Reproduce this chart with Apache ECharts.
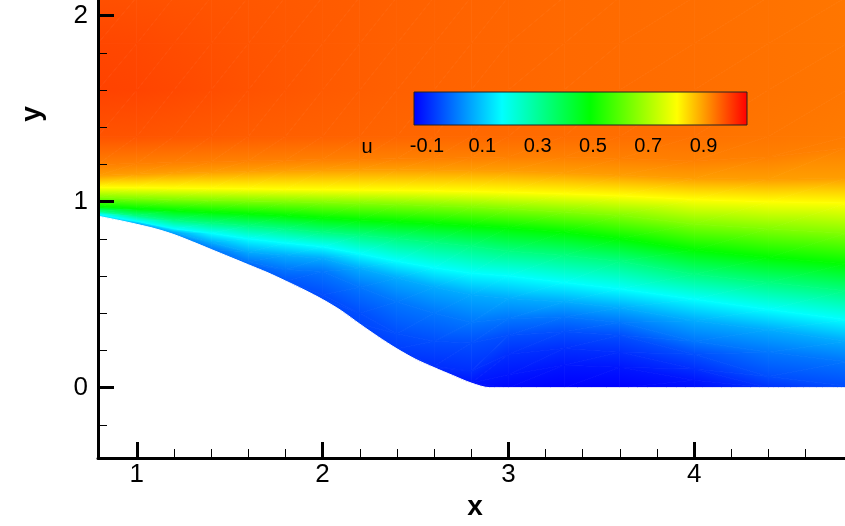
<!DOCTYPE html>
<html><head><meta charset="utf-8">
<script src="https://cdn.jsdelivr.net/npm/echarts@6/dist/echarts.min.js"></script>
<style>html,body{margin:0;padding:0;background:#fff}#c{width:845px;height:526px}</style>
</head><body><div id="c"></div>
<script>
// ---------------- data ----------------
// stations (x) where profiles were read
const xs = [0.79, 1.0, 1.2, 1.4, 1.6, 1.8, 2.0, 2.2, 2.4, 2.6, 2.8, 3.0, 3.3, 3.6, 4.0, 4.4, 4.82];
// wall (hill) shape
const wallX = [0.79, 0.9, 1.0, 1.1, 1.2, 1.3, 1.4, 1.5, 1.6, 1.7, 1.8, 1.9, 2.0, 2.1, 2.2, 2.3, 2.4, 2.5, 2.6, 2.7, 2.8, 2.9, 3.0, 3.3, 3.6, 4.0, 4.4, 4.82];
const wallY = [0.922, 0.900, 0.878, 0.854, 0.823, 0.784, 0.743, 0.702, 0.661, 0.620, 0.574, 0.526, 0.474, 0.414, 0.342, 0.273, 0.209, 0.153, 0.108, 0.066, 0.025, 0.0, 0, 0, 0, 0, 0, 0];
// u next to the wall at each station
const uWall = [0.12, 0.05, 0.03, 0.0, -0.02, -0.04, -0.055, -0.06, -0.07, -0.095, -0.12, -0.138, -0.147, -0.147, -0.13, -0.085, -0.055];
// heights (y) of contour lines of u at each station (null = level not present, lies on the wall)
const levM012 = -0.12, yM012 = [null, null, null, null, null, null, null, null, null, null, null, 0.07, 0.12, 0.11, 0.04, null, null];
const levM009 = -0.09, yM009 = [null, null, null, null, null, null, null, null, null, 0.115, 0.09, 0.18, 0.21, 0.19, 0.10, null, null];
const levM005 = -0.05, yM005 = [null, null, null, null, null, null, 0.50, 0.40, 0.29, 0.25, 0.24, 0.28, 0.30, 0.28, 0.18, 0.06, 0.01];
const lev000 = 0.0,   y000  = [null, null, null, null, 0.675, 0.635, 0.625, 0.54, 0.46, 0.40, 0.35, 0.37, 0.38, 0.35, 0.25, 0.19, 0.14];
const lev007 = 0.066, y007  = [null, 0.882, 0.835, 0.78, 0.73, 0.71, 0.695, 0.64, 0.59, 0.54, 0.50, 0.48, 0.46, 0.43, 0.36, 0.31, 0.25];
const lev017 = 0.171, y017  = [0.932, 0.895, 0.855, 0.83, 0.80, 0.778, 0.758, 0.72, 0.68, 0.645, 0.615, 0.60, 0.565, 0.53, 0.475, 0.42, 0.365];
const lev033 = 0.33,  y033  = [0.95, 0.925, 0.90, 0.885, 0.87, 0.855, 0.835, 0.82, 0.80, 0.78, 0.76, 0.735, 0.71, 0.68, 0.61, 0.565, 0.52];
const lev049 = 0.49,  y049  = [0.973, 0.962, 0.952, 0.943, 0.935, 0.925, 0.912, 0.902, 0.892, 0.882, 0.87, 0.858, 0.835, 0.80, 0.74, 0.70, 0.665];
const lev065 = 0.65,  y065  = [1.022, 1.017, 1.012, 1.008, 1.004, 1.0, 0.995, 0.99, 0.985, 0.978, 0.97, 0.96, 0.945, 0.925, 0.88, 0.855, 0.83];
const lev080 = 0.804, y080  = [1.076, 1.075, 1.073, 1.071, 1.069, 1.067, 1.065, 1.063, 1.061, 1.058, 1.055, 1.05, 1.042, 1.032, 1.012, 1.0, 0.992];
const lev090 = 0.90,  y090  = [1.14, 1.148, 1.155, 1.16, 1.164, 1.168, 1.17, 1.171, 1.171, 1.17, 1.168, 1.165, 1.155, 1.142, 1.125, 1.12, 1.125];
const lev093 = 0.93,  y093  = [1.2, 1.205, 1.21, 1.215, 1.22, 1.223, 1.226, 1.228, 1.23, 1.233, 1.236, 1.24, 1.24, 1.232, 1.22, 1.24, 1.29];
// u along horizontal lines in the outer flow
const yTop1 = 1.35, uTop1 = [0.975, 0.974, 0.971, 0.968, 0.965, 0.963, 0.961, 0.959, 0.957, 0.955, 0.954, 0.952, 0.95, 0.948, 0.945, 0.94, 0.935];
const yTop2 = 1.6,  uTop2 = [0.992, 0.99, 0.986, 0.981, 0.976, 0.972, 0.968, 0.965, 0.962, 0.96, 0.958, 0.956, 0.953, 0.951, 0.948, 0.944, 0.94];
const yTop3 = 1.85, uTop3 = [0.988, 0.986, 0.982, 0.978, 0.974, 0.971, 0.968, 0.965, 0.962, 0.96, 0.958, 0.956, 0.953, 0.951, 0.948, 0.944, 0.94];
const yTop4 = 2.1,  uTop4 = [0.978, 0.977, 0.975, 0.973, 0.971, 0.969, 0.967, 0.965, 0.962, 0.96, 0.958, 0.956, 0.953, 0.951, 0.948, 0.944, 0.94];
// colour map and colour bar
const cmapValues = [-0.147, 0.171, 0.49, 0.804, 1.057];
const cmapColors = ['#0000ff', '#00ffff', '#00ff00', '#ffff00', '#ff0000'];
const cbTicks = [-0.1, 0.1, 0.3, 0.5, 0.7, 0.9];
const cbTickLabels = ['-0.1', '0.1', '0.3', '0.5', '0.7', '0.9'];
const cbName = 'u';
// axes
const xMajor = [1, 2, 3, 4], xTickLabels = ['1', '2', '3', '4'];
const xMinor = [1.2, 1.4, 1.6, 1.8, 2.2, 2.4, 2.6, 2.8, 3.2, 3.4, 3.6, 3.8, 4.2, 4.4, 4.6];
const yMajor = [0, 1, 2], yTickLabels = ['0', '1', '2'];
const yMinor = [-0.2, 0.2, 0.4, 0.6, 0.8, 1.2, 1.4, 1.6, 1.8];
const xName = 'x', yName = 'y';
const xMin = 0.791, xMax = 4.812, yMin = -0.378, yMax = 2.084;

// ---------------- rendering helpers ----------------
const FONT = "'Liberation Sans', Arial, Helvetica, sans-serif";
const cRGB = cmapColors.map(h => [parseInt(h.slice(1,3),16), parseInt(h.slice(3,5),16), parseInt(h.slice(5,7),16)]);
function colorOf(u) {
  const v = cmapValues, n = v.length;
  let c;
  if (u <= v[0]) c = cRGB[0];
  else if (u >= v[n-1]) c = cRGB[n-1];
  else {
    let i = 0; while (i < n - 2 && u > v[i+1]) i++;
    const t = (u - v[i]) / (v[i+1] - v[i]);
    c = [0,1,2].map(k => cRGB[i][k] + (cRGB[i+1][k] - cRGB[i][k]) * t);
  }
  return 'rgb(' + Math.round(c[0]) + ',' + Math.round(c[1]) + ',' + Math.round(c[2]) + ')';
}
function wallAt(x) { return wallY[wallX.indexOf(x)]; }

const contourRows = [[levM012, yM012], [levM009, yM009], [levM005, yM005], [lev000, y000], [lev007, y007],
  [lev017, y017], [lev033, y033], [lev049, y049], [lev065, y065], [lev080, y080], [lev090, y090], [lev093, y093]];
const topRows = [[yTop1, uTop1], [yTop2, uTop2], [yTop3, uTop3], [yTop4, uTop4]];
const rows = [];
rows.push({ y: xs.map(() => yMin), u: uWall.slice() });
rows.push({ y: xs.map(wallAt), u: uWall.slice() });
contourRows.forEach(([lev, arr]) => rows.push({
  y: arr.map((v, i) => v == null ? wallAt(xs[i]) : v),
  u: arr.map((v, i) => v == null ? uWall[i] : lev)
}));
topRows.forEach(([yy, arr]) => rows.push({ y: xs.map(() => yy), u: arr.slice() }));

function triangle(P, U) {
  const d1x = P[1][0]-P[0][0], d1y = P[1][1]-P[0][1], d2x = P[2][0]-P[0][0], d2y = P[2][1]-P[0][1];
  const det = d1x*d2y - d1y*d2x;
  if (Math.abs(det) < 0.3) return null;
  const du1 = U[1]-U[0], du2 = U[2]-U[0];
  const gx = (du1*d2y - du2*d1y)/det, gy = (d1x*du2 - d2x*du1)/det;
  const g2 = gx*gx + gy*gy;
  const umin = Math.min(U[0],U[1],U[2]), umax = Math.max(U[0],U[1],U[2]);
  let fill;
  if (g2 < 1e-14 || umax - umin < 1e-9) fill = colorOf(U[0]);
  else {
    const ax = P[0][0] + gx*(umin-U[0])/g2, ay = P[0][1] + gy*(umin-U[0])/g2;
    const bx = P[0][0] + gx*(umax-U[0])/g2, by = P[0][1] + gy*(umax-U[0])/g2;
    const stops = [{offset: 0, color: colorOf(umin)}];
    cmapValues.forEach(v => { if (v > umin && v < umax) stops.push({offset: (v-umin)/(umax-umin), color: colorOf(v)}); });
    stops.push({offset: 1, color: colorOf(umax)});
    fill = new echarts.graphic.LinearGradient(ax, ay, bx, by, stops, true);
  }
  return {type: 'polygon', silent: true, shape: {points: P},
    style: {fill: fill, stroke: fill, lineWidth: 0.8, lineJoin: 'round'}};
}

function renderField(params, api) {
  const children = [];
  const pts = rows.map(r => xs.map((x, i) => api.coord([x, r.y[i]])));
  for (let r = 0; r < rows.length - 1; r++) {
    for (let i = 0; i < xs.length - 1; i++) {
      const a = pts[r][i], b = pts[r][i+1], c = pts[r+1][i+1], d = pts[r+1][i];
      const ua = rows[r].u[i], ub = rows[r].u[i+1], uc = rows[r+1].u[i+1], ud = rows[r+1].u[i];
      const t1 = triangle([a, b, c], [ua, ub, uc]);
      const t2 = triangle([a, c, d], [ua, uc, ud]);
      if (t1) children.push(t1);
      if (t2) children.push(t2);
    }
  }
  return {type: 'group', children: children};
}

function renderBar(params, api) {
  const p0 = api.coord([cmapValues[0], 1]);
  const p1 = api.coord([cmapValues[cmapValues.length-1], 0]);
  const span = cmapValues[cmapValues.length-1] - cmapValues[0];
  const stops = cmapValues.map((v, i) => ({offset: (v - cmapValues[0]) / span, color: cmapColors[i]}));
  return {type: 'rect', shape: {x: p0[0], y: p0[1], width: p1[0]-p0[0], height: p1[1]-p0[1]},
    style: {fill: new echarts.graphic.LinearGradient(p0[0], 0, p1[0], 0, stops, true), stroke: '#222', lineWidth: 1}};
}

const labelStyle = {color: '#000', fontFamily: FONT, fontSize: 26};
const chart = echarts.init(document.getElementById('c'), null, {renderer: 'canvas'});
chart.setOption({
  animation: false,
  backgroundColor: '#fff',
  grid: [
    {left: 98, top: 0, width: 747, height: 458, containLabel: false, outerBoundsMode: 'none', show: false},
    {left: 414, top: 92, width: 333, height: 33, containLabel: false, outerBoundsMode: 'none', show: false}
  ],
  graphic: [
    {type: 'text', x: 367, y: 147, z: 20, silent: true,
      style: {text: cbName, fill: '#000', font: '20px ' + FONT, align: 'center', verticalAlign: 'middle'}}
  ],
  xAxis: [
    {gridIndex: 0, type: 'value', min: xMin, max: xMax, position: 'bottom', z: 10,
      axisLine: {show: true, onZero: false, lineStyle: {color: '#000', width: 3}},
      axisTick: {show: true, inside: true, length: 16, customValues: xMajor, lineStyle: {color: '#000', width: 3}},
      axisLabel: {show: true, customValues: xMajor, margin: 4, formatter: v => xTickLabels[xMajor.indexOf(v)], ...labelStyle},
      splitLine: {show: false}, minorTick: {show: false},
      name: xName, nameLocation: 'middle', nameGap: 32,
      nameTextStyle: {color: '#000', fontFamily: FONT, fontSize: 28, fontWeight: 'bold', padding: [0, 0, 0, 7]}},
    {gridIndex: 0, type: 'value', min: xMin, max: xMax, position: 'bottom', z: 10,
      axisLine: {show: false, onZero: false},
      axisTick: {show: true, inside: true, length: 9, customValues: xMinor, lineStyle: {color: '#000', width: 1}},
      axisLabel: {show: false}, splitLine: {show: false}},
    {gridIndex: 1, type: 'value', min: cmapValues[0], max: cmapValues[cmapValues.length-1], position: 'bottom', z: 10,
      axisLine: {show: false, onZero: false}, axisTick: {show: false},
      axisLabel: {show: true, customValues: cbTicks, margin: 11, color: '#000', fontFamily: FONT, fontSize: 20,
        formatter: v => cbTickLabels[cbTicks.indexOf(v)]},
      splitLine: {show: false}}
  ],
  yAxis: [
    {gridIndex: 0, type: 'value', min: yMin, max: yMax, position: 'left', z: 10,
      axisLine: {show: true, onZero: false, lineStyle: {color: '#000', width: 3}},
      axisTick: {show: true, inside: true, length: 16, customValues: yMajor, lineStyle: {color: '#000', width: 3}},
      axisLabel: {show: true, customValues: yMajor, margin: 10, formatter: v => yTickLabels[yMajor.indexOf(v)], ...labelStyle},
      splitLine: {show: false},
      name: yName, nameLocation: 'middle', nameGap: 52, nameRotate: 90,
      nameTextStyle: {color: '#000', fontFamily: FONT, fontSize: 28, fontWeight: 'bold', padding: [0, 0, 0, 230]}},
    {gridIndex: 0, type: 'value', min: yMin, max: yMax, position: 'left', z: 10,
      axisLine: {show: false, onZero: false},
      axisTick: {show: true, inside: true, length: 9, customValues: yMinor, lineStyle: {color: '#000', width: 1}},
      axisLabel: {show: false}, splitLine: {show: false}},
    {gridIndex: 1, type: 'value', min: 0, max: 1, show: false}
  ],
  series: [
    {type: 'custom', name: 'field', xAxisIndex: 0, yAxisIndex: 0, clip: true, z: 2, silent: true,
      renderItem: renderField, data: [[xs[0], 0]]},
    {type: 'line', name: 'wall', xAxisIndex: 0, yAxisIndex: 0, z: 3, silent: true, symbol: 'none', smooth: 0.3,
      data: wallX.map((x, i) => [x, wallY[i]]),
      lineStyle: {color: '#fff', width: 1},
      areaStyle: {color: '#fff', opacity: 1, origin: 'start'}},
    {type: 'custom', name: 'colorbar', xAxisIndex: 2, yAxisIndex: 2, z: 5, silent: true,
      renderItem: renderBar, data: [[cmapValues[0], 0]]}
  ]
});
</script>
</body></html>
